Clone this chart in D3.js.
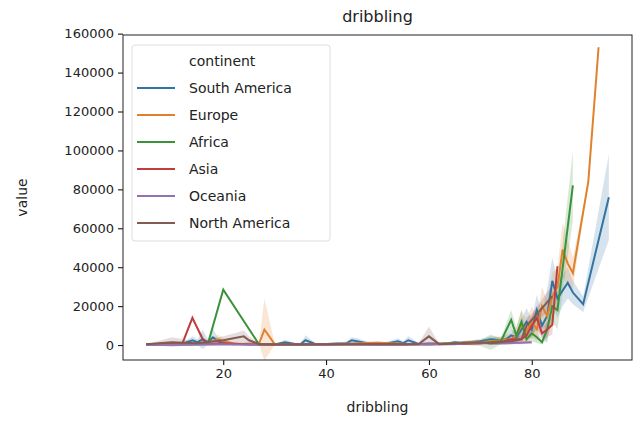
<!DOCTYPE html>
<html>
<head>
<meta charset="utf-8">
<script src="https://cdn.jsdelivr.net/npm/d3@7"></script>
<style>
  body { margin: 0; background: #fff; font-family: "DejaVu Sans", sans-serif; }
</style>
</head>
<body>
<svg id="chart"></svg>
<script>
// Data, per continent
const continents = ["South America", "Europe", "Africa", "Asia", "Oceania", "North America"];
const colors = ["#3274a1", "#e1812c", "#3a923a", "#c03d3e", "#9372b2", "#845b53"];

const saX = [5, 8, 10, 12, 14, 15, 16, 17, 18, 19, 20, 22, 25, 28, 30, 32, 34, 35, 36, 38, 40, 42, 44, 45, 46, 48, 50, 52, 54, 55, 56, 58, 60, 62, 64, 65, 66, 68, 70, 72, 74, 75, 76, 77, 78, 79, 80, 81, 82, 83, 84, 85, 86, 87, 88, 90, 95];
const saY = [300, 500, 800, 600, 2500, 1500, 3000, 1500, 4000, 2000, 1000, 500, 700, 500, 300, 1500, 600, 400, 2500, 500, 600, 800, 1000, 2500, 2000, 1000, 800, 1000, 2000, 1000, 2500, 600, 800, 700, 1000, 1500, 1200, 1500, 2000, 3000, 2500, 3000, 5000, 4000, 8000, 12000, 8000, 18000, 10000, 15000, 33000, 24000, 28000, 32000, 27000, 21000, 76000];
const saS = [0, 300, 500, 400, 2000, 1500, 5000, 1500, 4500, 1500, 1000, 300, 500, 300, 200, 1200, 400, 300, 2500, 300, 400, 500, 800, 1500, 1500, 800, 600, 700, 1500, 800, 2000, 400, 600, 500, 700, 800, 800, 1000, 1200, 1500, 1500, 2000, 3000, 2500, 5000, 7000, 5000, 8000, 6000, 14000, 12000, 10000, 8000, 8000, 6000, 4000, 22000];

const euX = [5, 8, 10, 12, 14, 16, 18, 19, 20, 22, 25, 27, 28, 30, 35, 40, 45, 50, 55, 60, 65, 68, 70, 72, 74, 76, 77, 78, 79, 80, 81, 82, 83, 84, 85, 86, 87, 88, 91, 93];
const euY = [300, 500, 400, 600, 500, 1000, 2000, 3000, 2000, 800, 600, 1000, 8000, 500, 600, 400, 800, 1200, 700, 600, 1000, 1500, 1500, 2000, 2500, 3000, 5000, 10000, 7000, 12000, 8000, 20000, 15000, 25000, 30000, 49000, 42000, 37000, 84000, 153000];
const euS = [0, 300, 300, 400, 300, 800, 1500, 2500, 1500, 500, 400, 800, 16000, 300, 400, 300, 500, 800, 500, 400, 600, 1000, 1000, 1500, 2000, 3000, 4000, 8000, 6000, 8000, 6000, 10000, 8000, 12000, 10000, 14000, 12000, 8000, 0, 0];

const afX = [5, 10, 15, 17, 20, 27, 30, 35, 40, 45, 50, 55, 60, 65, 70, 72, 74, 76, 77, 78, 79, 80, 81, 82, 83, 84, 85, 88];
const afY = [200, 500, 300, 500, 28500, 200, 300, 400, 300, 500, 600, 400, 500, 800, 1000, 1500, 2000, 13000, 5000, 12000, 3000, 6000, 4000, 1500, 8000, 20000, 18000, 82000];
const afS = [0, 300, 200, 400, 0, 100, 200, 300, 200, 300, 400, 300, 300, 600, 1500, 4000, 1500, 5000, 4000, 6000, 2000, 4000, 3000, 1000, 5000, 8000, 10000, 18000];

const asX = [5, 10, 12, 14, 16, 17, 20, 25, 30, 35, 40, 45, 50, 55, 60, 65, 70, 74, 76, 77, 78, 79, 80, 81, 82, 83, 84, 85];
const asY = [300, 1000, 500, 14000, 3000, 500, 1000, 300, 200, 400, 300, 500, 400, 300, 500, 600, 1000, 1500, 3000, 3000, 3000, 5000, 10000, 14000, 6000, 8000, 10500, 40500];
const asS = [0, 800, 300, 0, 2000, 300, 800, 200, 100, 300, 200, 300, 300, 200, 300, 400, 600, 1000, 2000, 2000, 2000, 3000, 5000, 6000, 3000, 4000, 5000, 0];

const ocX = [5, 10, 15, 20, 25, 30, 35, 40, 45, 50, 55, 60, 65, 70, 72, 75, 78, 80];
const ocY = [100, 200, 300, 500, 200, 300, 200, 400, 300, 200, 300, 400, 500, 1500, 800, 1000, 1200, 1500];
const ocS = [0, 100, 200, 300, 100, 200, 100, 200, 200, 100, 200, 200, 300, 800, 500, 600, 800, 800];

const naX = [5, 10, 15, 20, 22, 24, 25, 27, 30, 35, 40, 45, 50, 55, 58, 60, 62, 65, 70, 72, 76, 78, 79, 80, 84];
const naY = [500, 1500, 1000, 2500, 3500, 4500, 2500, 500, 400, 300, 500, 400, 600, 500, 600, 4500, 500, 800, 1500, 1000, 2000, 3000, 10000, 13000, 25000];
const naS = [0, 2500, 800, 2000, 2500, 3000, 2000, 300, 200, 200, 300, 300, 400, 300, 400, 5000, 300, 500, 1000, 800, 1500, 2000, 4000, 3000, 6000];

const seriesX = [saX, euX, afX, asX, ocX, naX];
const seriesY = [saY, euY, afY, asY, ocY, naY];
const seriesS = [saS, euS, afS, asS, ocS, naS];

const yTicks = [0, 20000, 40000, 60000, 80000, 100000, 120000, 140000, 160000];
const xTicks = [20, 40, 60, 80];

const W = 644, H = 438;
const margin = { top: 35, right: 12, bottom: 78, left: 123 };
const width = W - margin.left - margin.right;
const height = H - margin.top - margin.bottom;

const svgRoot = d3.select("#chart").attr("width", W).attr("height", H);
const svg = svgRoot.append("g").attr("transform", `translate(${margin.left},${margin.top})`);

const x = d3.scaleLinear().domain([0.5, 99.5]).range([0, width]);
const y = d3.scaleLinear().domain([-7650, 159300]).range([height, 0]);

svg.append("clipPath").attr("id", "clip").append("rect").attr("width", width).attr("height", height);
const plot = svg.append("g").attr("clip-path", "url(#clip)");

const area = d3.area().x(d => x(d.x)).y0(d => y(d.y - d.s)).y1(d => y(d.y + d.s));
const line = d3.line().x(d => x(d.x)).y(d => y(d.y));

const data = continents.map((c, i) => ({
    key: c, color: colors[i],
    pts: seriesX[i].map((v, j) => ({ x: v, y: seriesY[i][j], s: seriesS[i][j] }))
}));

plot.selectAll(".band").data(data).enter().append("path")
    .attr("d", d => area(d.pts)).attr("fill", d => d.color).attr("opacity", 0.2);
plot.selectAll(".line").data(data).enter().append("path")
    .attr("d", d => line(d.pts)).attr("fill", "none").attr("stroke", d => d.color)
    .attr("stroke-width", 2);

// axes
svg.append("g").attr("transform", `translate(0,${height})`)
    .call(d3.axisBottom(x).tickValues(xTicks).tickSize(5).tickPadding(4))
    .attr("font-size", 13).attr("font-family", "DejaVu Sans")
    .call(g => g.select(".domain").remove());
svg.append("g")
    .call(d3.axisLeft(y).tickValues(yTicks).tickSize(5).tickPadding(4).tickFormat(d3.format("d")))
    .attr("font-size", 13).attr("font-family", "DejaVu Sans")
    .call(g => g.select(".domain").remove());
svg.selectAll(".tick text").attr("fill", "#222");
svg.append("rect").attr("width", width).attr("height", height)
    .attr("fill", "none").attr("stroke", "#222").attr("stroke-width", 1);

svg.append("text").attr("x", width / 2).attr("y", -13).attr("text-anchor", "middle")
    .style("font-size", "16px").style("fill", "#222").text("dribbling");
svg.append("text").attr("x", width / 2).attr("y", height + 52).attr("text-anchor", "middle")
    .style("font-size", "14px").style("fill", "#222").text("dribbling");
svg.append("text").attr("transform", "rotate(-90)").attr("x", -height / 2).attr("y", -96)
    .attr("text-anchor", "middle").style("font-size", "14px").style("fill", "#222").text("value");

// legend
const lg = svgRoot.append("g").attr("transform", "translate(132,45)");
lg.append("rect").attr("width", 198).attr("height", 196).attr("rx", 3)
    .attr("fill", "#fff").attr("fill-opacity", 0.8).attr("stroke", "#ddd");
lg.append("text").attr("x", 57).attr("y", 21).style("font-size", "14px").style("fill", "#222").text("continent");
data.forEach((d, i) => {
    const yy = 43 + i * 27;
    lg.append("line").attr("x1", 5).attr("x2", 43).attr("y1", yy).attr("y2", yy)
        .attr("stroke", d.color).attr("stroke-width", 2);
    lg.append("text").attr("x", 57).attr("y", yy + 5).style("font-size", "14px")
        .style("fill", "#222").text(d.key);
});
</script>
</body>
</html>
